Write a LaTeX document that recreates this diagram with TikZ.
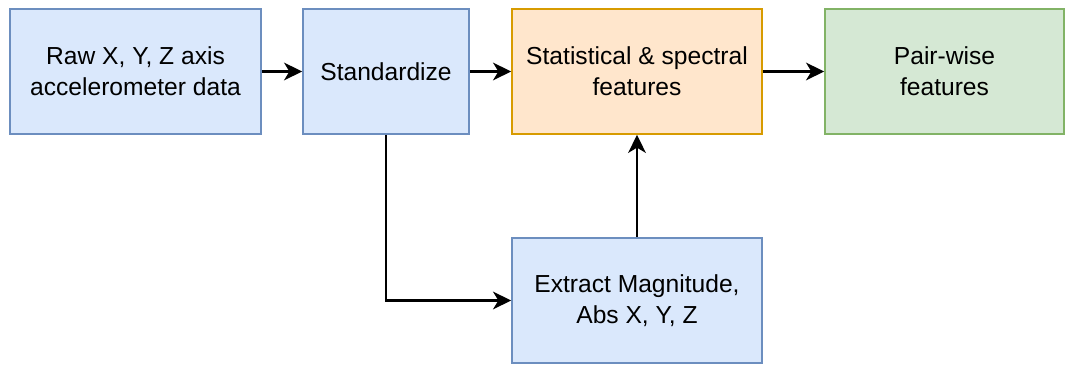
\documentclass[tikz,border=0pt]{standalone}
\usepackage{fontspec}
\setmainfont{Liberation Sans}
\usetikzlibrary{arrows.meta}
\definecolor{bluefill}{HTML}{DAE8FC}
\definecolor{bluedraw}{HTML}{6C8EBF}
\definecolor{orangefill}{HTML}{FFE6CC}
\definecolor{orangedraw}{HTML}{D79B00}
\definecolor{greenfill}{HTML}{D5E8D4}
\definecolor{greendraw}{HTML}{82B366}
\tikzset{
  stagebox/.style={draw=bluedraw,fill=bluefill,line width=1.2pt,minimum height=3.125cm,
    align=center,inner sep=0pt,font=\fontsize{17.5}{22}\selectfont},
  featbox/.style={stagebox,draw=orangedraw,fill=orangefill},
  pairbox/.style={stagebox,draw=greendraw,fill=greenfill},
  flow/.style={line width=2pt,-{Stealth[length=0.45cm,width=0.44cm,inset=0.13cm]}}
}

\begin{document}
\begin{tikzpicture}[x=0.025cm,y=-0.025cm]
\useasboundingbox (0,0) rectangle (1066,365);
% top row
\node[stagebox,minimum width=6.275cm] (raw) at (135.5,71.5){Raw X, Y, Z axis\\accelerometer data};
\node[stagebox,minimum width=4.15cm] (std) at (386,71.5){Standardize};
\node[featbox,minimum width=6.25cm] (stat) at (637,71.5){Statistical \& spectral\\features};
\node[pairbox,minimum width=5.975cm] (pair) at (944.5,71.5){Pair-wise\\features};
% magnitude branch
\node[stagebox,minimum width=6.25cm] (mag) at (637,300.5){Extract Magnitude,\\Abs X, Y, Z};

\draw[flow] (raw) -- (std);
\draw[flow] (std) -- (stat);
\draw[flow] (stat) -- (pair);
\draw[flow] (std.south) |- (mag.west);
\draw[flow] (mag) -- (stat);
\end{tikzpicture}
\end{document}
